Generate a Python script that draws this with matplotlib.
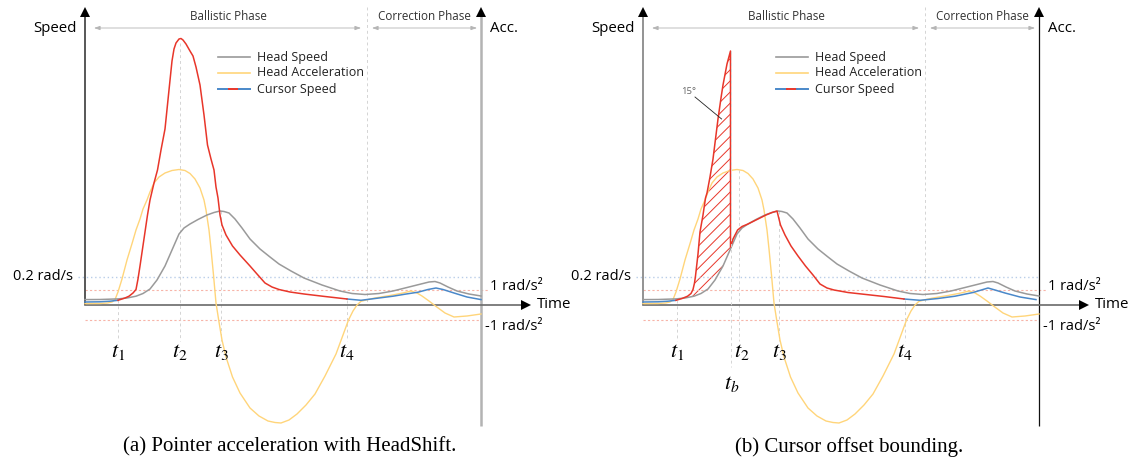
import numpy as np
import matplotlib
matplotlib.use("Agg")
import matplotlib.pyplot as plt

plt.rcParams['font.family'] = ['Open Sans', 'DejaVu Sans']
plt.rcParams['mathtext.fontset'] = 'stix'
plt.rcParams['hatch.linewidth'] = 0.7

# time units ~ px from the speed axis, values ~ px above the time axis
head_speed_t = [0, 15, 33, 42, 51, 58, 65, 72, 80, 87, 94, 99, 105, 113, 122, 129, 135, 139, 144, 150,
                157, 165, 175, 185, 194, 206, 219, 237, 255, 267, 280, 294, 308, 326, 344, 350, 355,
                363, 372, 384, 396]
head_speed = [5.4, 5.5, 6.1, 7, 8.8, 11.5, 16, 25, 39, 55, 71, 77, 81, 85.5, 90, 92.5, 94, 93.5, 92, 86,
              77, 66, 56, 48, 41, 34, 27, 20, 14, 11.5, 10.5, 11.5, 14, 18.5, 23, 23.5, 22,
              18, 14, 11, 9]

head_acc_t = [0, 15, 22.5, 27, 30, 33, 37, 42, 47.5, 51, 55, 58, 62, 65, 69, 74, 80, 87, 94, 100, 105,
              110, 115, 119, 121, 124, 126, 128.5, 131, 134, 137, 141, 147.5, 155, 165, 174, 183, 190,
              196, 204, 212, 221, 230, 240, 251, 258, 263.5, 268, 272, 276, 283, 290, 305, 318, 326,
              332, 337, 344, 351, 360, 369, 382, 396]
head_acc = [1.4, 1.5, 2, 3, 5.4, 13, 26, 45, 63, 75, 86, 96, 105, 113, 122, 128, 132, 134.5, 135.5, 134.5,
            131.5, 126, 117, 105, 95, 75, 56, 30, 2, -17, -35, -52, -72, -88, -103, -111, -116, -117.5,
            -118, -115, -109, -100, -89, -71, -49, -30, -15, -6, 0, 3.7, 5.5, 7, 9.5, 12, 14,
            12, 9, 4, -1.4, -8, -12, -11, -9]

# (a) cursor speed: blue / red / blue pieces
cur_a_t = [0, 15, 25, 33, 40, 44, 48, 51, 53, 55, 57.5, 60, 62.5, 65, 69, 72.5, 76, 80, 84, 87, 89, 91,
           94, 96, 98, 101, 105, 108, 111, 115, 119, 122.5, 126, 129, 131, 133, 135, 137, 141, 147.5,
           155, 165, 172, 180, 187, 194, 205, 219, 240, 262, 276, 290, 308, 320, 333, 343, 351, 358,
           369, 382, 396]
cur_a = [3, 3.2, 3.8, 4.7, 7, 8.8, 12, 15.5, 26, 39, 56, 73, 90, 105, 122, 135, 155, 176, 215, 244, 256,
         262, 266, 266.5, 265, 261, 254, 249, 238, 220, 190, 160, 146, 135, 118, 107, 90, 80, 70, 59,
         50, 39, 31, 22, 18, 15.5, 13, 11, 8.5, 6, 4.7, 6.5, 8.8, 10.8, 12.8, 15.5, 17, 15.5,
         12, 8, 5.4]
cur_a_red = (33, 262)

# (b) cursor speed with offset bounding
cur_b_t = [0, 15, 25, 33, 39, 44.6, 48, 50, 51.5, 52.5, 55, 57, 60, 62.5, 64, 67, 70, 72.5, 75, 78, 80,
           84, 87.5, 87.5, 90, 94.6, 99, 105, 114, 123, 129, 134, 136, 137.5, 142, 148, 155, 162.5,
           170, 177, 184, 191, 205, 223, 241, 261, 277, 295, 312, 330, 345, 352, 362, 377, 393]
cur_b = [3, 3.2, 3.8, 4.7, 6.5, 8.8, 11.5, 15.5, 22, 29, 51, 73, 90, 107, 112, 128, 146, 166, 186, 207,
         220, 241, 254, 58, 66, 75, 78.5, 81, 85.5, 90, 92.5, 94, 86, 80, 70, 59, 49, 39,
         30, 21, 17, 15, 12.5, 10.5, 8.5, 6, 4.7, 6.5, 8.8, 12.5, 17, 15, 12, 8, 5.4]
cur_b_red = (33, 261)
t_b = 87.5

speed_thr = 28      # 0.2 rad/s
acc_thr = 15        # 1 rad/s^2
phase_split = 282
t_end = 396

marks_a = {'$t_{1}$': 33, '$t_{2}$': 95, '$t_{3}$': 136, '$t_{4}$': 262}
marks_b = {'$t_{1}$': 34, '$t_{2}$': 96, '$t_{3}$': 136, '$t_{4}$': 262}
mark_label_x_b = {'$t_{1}$': 34, '$t_{2}$': 99, '$t_{3}$': 136, '$t_{4}$': 262}

GREY = '#9a9a9a'
YEL = '#ffd57a'
RED = '#e8362a'
BLUE = '#4a88c9'
GUIDE = '#d4d4d4'

fig = plt.figure(figsize=(11.32, 4.66), dpi=100)


def split_cursor(ts, vs, red):
    ts = np.array(ts)
    vs = np.array(vs)
    lo, hi = red
    m1 = ts <= lo
    m2 = (ts >= lo) & (ts <= hi)
    m3 = ts >= hi
    return (ts[m1], vs[m1]), (ts[m2], vs[m2]), (ts[m3], vs[m3])


def draw_panel(ax, cur_t, cur_v, red, marks, label_x, left_col, right_col, right_lw, panel_b=False):
    ax.set_xlim(-85, 475)
    ax.set_ylim(-161, 305)
    ax.axis('off')

    # threshold guides
    ax.plot([-7, t_end], [speed_thr, speed_thr], ls=(0, (1, 2)), color='#b9cde8', lw=1.0)
    ax.plot([0, t_end + 8], [acc_thr, acc_thr], ls=(0, (2, 2)), color='#f7b4a8', lw=0.8)
    ax.plot([0, t_end], [-acc_thr, -acc_thr], ls=(0, (2, 2)), color='#f7b4a8', lw=0.8)

    # vertical guides
    keys = list(marks.keys())
    tops = [5, 135 if panel_b else 262, 94, 5]
    for k, top in zip(keys, tops):
        x = marks[k]
        ax.plot([x, x], [top, -36], ls=(0, (3, 3)), color=GUIDE, lw=0.7)
    ax.plot([phase_split, phase_split], [298, 0], ls=(0, (3, 3)), color=GUIDE, lw=0.7)

    # axes
    ax.plot([0, 0], [0, 292], color=left_col, lw=1.3, solid_capstyle='butt')
    ax.plot([0], [293], marker='^', color='black', ms=7, mew=0)
    ax.plot([t_end, t_end], [-121, 292], color=right_col, lw=right_lw, solid_capstyle='butt')
    ax.plot([t_end], [293], marker='^', color='black', ms=7, mew=0)
    ax.plot([0, 440], [0, 0], color='#6a6a6a', lw=1.2)
    ax.plot([441], [0], marker='>', color='black', ms=7, mew=0)

    # curves
    ax.plot(head_acc_t, head_acc, color=YEL, lw=1.0)
    ax.plot(head_speed_t, head_speed, color=GREY, lw=1.1)
    p1, p2, p3 = split_cursor(cur_t, cur_v, red)
    ax.plot(*p1, color=BLUE, lw=1.1)
    ax.plot(*p3, color=BLUE, lw=1.1)
    ax.plot(*p2, color=RED, lw=1.1)

    # phase arrows
    for x0, x1 in [(9, 276), (287, 392)]:
        ax.annotate('', xy=(x0, 277), xytext=(x1, 277),
                    arrowprops=dict(arrowstyle='<|-|>,head_length=0.35,head_width=0.12',
                                    color='#b5b5b5', lw=0.6, shrinkA=0, shrinkB=0))
    ax.text(143, 288, 'Ballistic Phase', ha='center', va='center', fontsize=8.4, color='#333333')
    ax.text(339, 288, 'Correction Phase', ha='center', va='center', fontsize=8.4, color='#333333')

    # legend
    ax.plot([133, 165], [248, 248], color=GREY, lw=1.2)
    ax.plot([133, 165], [232, 232], color=YEL, lw=1.2)
    ax.plot([133, 144], [216, 216], color=BLUE, lw=1.4)
    ax.plot([144, 154], [216, 216], color=RED, lw=1.4)
    ax.plot([154, 165], [216, 216], color=BLUE, lw=1.4)
    ax.text(172, 248, 'Head Speed', va='center', fontsize=9, color='#222222')
    ax.text(172, 232, 'Head Acceleration', va='center', fontsize=9, color='#222222')
    ax.text(172, 216, 'Cursor Speed', va='center', fontsize=9, color='#222222')

    # axis labels
    ax.text(-8, 277, 'Speed', ha='right', va='center', fontsize=10.8)
    ax.text(405, 277, 'Acc.', ha='left', va='center', fontsize=10.8)
    ax.text(452, 0, 'Time', ha='left', va='center', fontsize=10.8)
    ax.text(-12, speed_thr, '0.2 rad/s', ha='right', va='center', fontsize=10.5)
    ax.text(405, acc_thr + 3, '1 rad/s²', ha='left', va='center', fontsize=10.5)
    ax.text(400, -acc_thr - 6, '-1 rad/s²', ha='left', va='center', fontsize=10.5)

    for k, x in label_x.items():
        ax.text(x, -47, k, ha='center', va='center', fontsize=16)


ax_a = fig.add_axes([0, 0, 560 / 1132, 1])
draw_panel(ax_a, cur_a_t, cur_a, cur_a_red, marks_a, marks_a, '#4a4a4a', '#b3b3b3', 1.8)

ax_b = fig.add_axes([558 / 1132, 0, 560 / 1132, 1])
draw_panel(ax_b, cur_b_t, cur_b, cur_b_red, marks_b, mark_label_x_b, '#8a8a8a', '#111111', 0.9, panel_b=True)

# hatched offset area between cursor and head speed up to t_b
ct = np.array(cur_b_t[3:23])
cv = np.array(cur_b[3:23])
hs_t = np.array(head_speed_t)
hs = np.array(head_speed)
m = (hs_t >= 33) & (hs_t <= 87)
poly_x = np.concatenate([ct, [t_b], hs_t[m][::-1]])
poly_y = np.concatenate([cv, [58], hs[m][::-1]])
ax_b.fill(poly_x, poly_y, facecolor='none', edgecolor=RED, hatch='///', lw=0)
ax_b.plot([t_b, t_b], [254, -62], ls=(0, (3, 3)), color=GUIDE, lw=0.7)
ax_b.text(89, -78, '$t_{b}$', ha='center', va='center', fontsize=16)
ax_b.plot([52, 78.6], [208, 186], color='#222222', lw=0.6)
ax_b.text(46, 214, '15°', ha='center', va='center', fontsize=6.8, color='#666666')

fig.text(290 / 1132, 1 - 447 / 466, '(a) Pointer acceleration with HeadShift.', ha='center', va='center',
         fontsize=15, family='Liberation Serif')
fig.text(849 / 1132, 1 - 447 / 466, '(b) Cursor offset bounding.', ha='center', va='center',
         fontsize=15, family='Liberation Serif')

fig.savefig('out.png', dpi=100)
